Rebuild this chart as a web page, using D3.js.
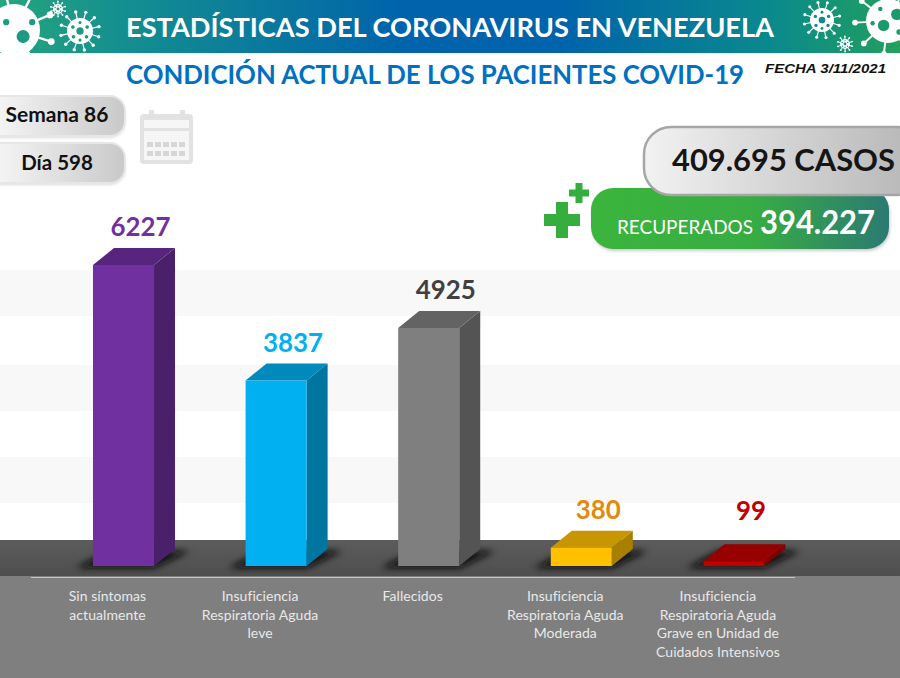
<!DOCTYPE html>
<html>
<head>
<meta charset="utf-8">
<script src="https://cdn.jsdelivr.net/npm/d3@7"></script>
<style>
  html, body { margin: 0; padding: 0; background: #fff; }
  svg { display: block; }
  text { font-family: Lato, "Open Sans", sans-serif; }
</style>
</head>
<body>
<div id="chart"></div>
<script>
const categories = ["Sin síntomas", "IRA leve", "Fallecidos", "IRA moderada", "IRA grave UCI"];
const values = [6227, 3837, 4925, 380, 99];
const categoryLines = [
  ["Sin síntomas", "actualmente"],
  ["Insuficiencia", "Respiratoria Aguda", "leve"],
  ["Fallecidos"],
  ["Insuficiencia", "Respiratoria Aguda", "Moderada"],
  ["Insuficiencia", "Respiratoria Aguda", "Grave en Unidad de", "Cuidados Intensivos"]
];
const barColors = ["#7030a0", "#00b0f0", "#7f7f7f", "#ffc000", "#c00000"];
const labelColors = ["#7030a0", "#00b0f0", "#404040", "#e38a0c", "#c00000"];

const width = 900, height = 678;
const depthX = 21, depthY = 17;

const svg = d3.select("#chart").append("svg")
  .attr("width", width)
  .attr("height", height);

const defs = svg.append("defs");

function gradient(id, stops, x2 = 1, y2 = 0) {
  const g = defs.append("linearGradient").attr("id", id)
    .attr("x1", 0).attr("y1", 0).attr("x2", x2).attr("y2", y2);
  stops.forEach(s => g.append("stop").attr("offset", s[0]).attr("stop-color", s[1]));
}
gradient("headerGrad", [[0, "#27a57c"], [0.13, "#14908f"], [0.45, "#0063ab"], [0.62, "#0063ab"], [0.86, "#0a8a8c"], [1, "#22a05c"]]);
gradient("pillGrad", [[0, "#fafafa"], [1, "#c9c9c9"]]);
gradient("casosGrad", [[0, "#f2f2f2"], [1, "#b5b5b5"]]);
gradient("greenGrad", [[0, "#3bb53c"], [0.55, "#37ac44"], [1, "#2c7a72"]]);
gradient("floorGrad", [[0, "#5c5c5c"], [1, "#4e4e4e"]], 0, 1);

defs.append("filter").attr("id", "blur").attr("x", "-30%").attr("y", "-60%").attr("width", "160%").attr("height", "220%")
  .append("feGaussianBlur").attr("stdDeviation", 3.5);
defs.append("filter").attr("id", "soft").attr("x", "-10%").attr("y", "-10%").attr("width", "120%").attr("height", "130%")
  .append("feGaussianBlur").attr("stdDeviation", 1.5);
defs.append("clipPath").attr("id", "headerClip")
  .append("rect").attr("width", width).attr("height", 53);
defs.append("clipPath").attr("id", "floorClip")
  .append("rect").attr("y", 540).attr("width", width).attr("height", 36);

// header
const header = svg.append("g").attr("clip-path", "url(#headerClip)");
header.append("rect").attr("width", width).attr("height", 53).attr("fill", "url(#headerGrad)");

function virus(g, cx, cy, r, spikes, holes, holeColor) {
  const v = g.append("g").attr("transform", `translate(${cx},${cy})`);
  d3.range(spikes).forEach(i => {
    const a = i / spikes * 2 * Math.PI + 0.3;
    v.append("line")
      .attr("x2", Math.cos(a) * r * 1.5).attr("y2", Math.sin(a) * r * 1.5)
      .attr("stroke", "#fff").attr("stroke-width", Math.max(1, r * 0.09));
    v.append("circle")
      .attr("cx", Math.cos(a) * r * 1.5).attr("cy", Math.sin(a) * r * 1.5)
      .attr("r", Math.max(0.9, r * 0.13)).attr("fill", "#fff");
  });
  v.append("circle").attr("r", r).attr("fill", "#fff");
  holes.forEach(h => v.append("circle")
    .attr("cx", h[0] * r).attr("cy", h[1] * r).attr("r", h[2] * r).attr("fill", holeColor));
}
const smallHoles = [[0, 0, 0.28], [-0.55, -0.3, 0.14], [0.55, -0.3, 0.14], [-0.5, 0.45, 0.14], [0.5, 0.45, 0.14], [0, -0.65, 0.12], [0, 0.7, 0.12]];
const bigHoles = [[0.4, -0.3, 0.26], [-0.2, 0.2, 0.26], [-0.35, -0.55, 0.1], [0.5, 0.5, 0.12], [-0.7, 0.1, 0.1]];
virus(header, 14, 30, 26, 9, [[0.35, 0.25, 0.25], [-0.3, -0.3, 0.12], [0.7, -0.3, 0.12], [0.85, 0.7, 0.1]], "#1d9a85");
virus(header, 80, 31, 13, 12, smallHoles, "#1d9a85");
virus(header, 58, 9, 5, 10, smallHoles, "#1d9a85");
virus(header, 822, 20, 12, 12, smallHoles, "#118a8b");
virus(header, 845, 44, 5, 10, smallHoles, "#118a8b");
virus(header, 888, 21, 22, 9, bigHoles, "#1d9a6c");

header.append("text")
  .attr("x", 126).attr("y", 37)
  .attr("textLength", 648).attr("lengthAdjust", "spacingAndGlyphs")
  .attr("font-size", 26.5).attr("font-weight", 700).attr("fill", "#fff")
  .text("ESTADÍSTICAS DEL CORONAVIRUS EN VENEZUELA");

svg.append("text")
  .attr("x", 126).attr("y", 84)
  .attr("textLength", 618).attr("lengthAdjust", "spacingAndGlyphs")
  .attr("font-size", 26).attr("font-weight", 700).attr("fill", "#0070c0")
  .text("CONDICIÓN ACTUAL DE LOS PACIENTES COVID-19");

svg.append("text")
  .attr("x", 765).attr("y", 73)
  .attr("textLength", 121).attr("lengthAdjust", "spacingAndGlyphs")
  .style("font-family", "'Liberation Sans', sans-serif")
  .attr("font-size", 13.5).attr("font-weight", 700).attr("font-style", "italic").attr("fill", "#111")
  .text("FECHA 3/11/2021");

// week and day pills
function pill(x, y, w, h, r, fill, stroke) {
  svg.append("rect").attr("x", x).attr("y", y + 2).attr("width", w).attr("height", h).attr("rx", r)
    .attr("fill", "#bbb").attr("opacity", 0.5).attr("filter", "url(#soft)");
  svg.append("rect").attr("x", x).attr("y", y).attr("width", w).attr("height", h).attr("rx", r)
    .attr("fill", fill).attr("stroke", stroke).attr("stroke-width", 2);
}
pill(-20, 96, 145, 40, 15, "url(#pillGrad)", "#e6e6e6");
pill(-20, 143, 145, 40, 15, "url(#pillGrad)", "#e6e6e6");
svg.append("text").attr("x", 57).attr("y", 122).attr("text-anchor", "middle")
  .attr("font-size", 21).attr("font-weight", 700).attr("fill", "#111").text("Semana 86");
svg.append("text").attr("x", 57).attr("y", 170).attr("text-anchor", "middle")
  .attr("font-size", 20.5).attr("font-weight", 700).attr("fill", "#111").text("Día 598");

// calendar icon
const cal = svg.append("g").attr("fill", "#e2e2e2").attr("filter", "url(#calSoft)");
defs.append("filter").attr("id", "calSoft").append("feGaussianBlur").attr("stdDeviation", 0.5);
cal.append("rect").attr("x", 140).attr("y", 114).attr("width", 53).attr("height", 50).attr("rx", 4);
cal.append("rect").attr("x", 144).attr("y", 120).attr("width", 45).attr("height", 8).attr("fill", "#f6f6f6");
cal.append("rect").attr("x", 144).attr("y", 131).attr("width", 45).attr("height", 29).attr("fill", "#f6f6f6");
cal.append("rect").attr("x", 149).attr("y", 110).attr("width", 5).attr("height", 10);
cal.append("rect").attr("x", 180).attr("y", 110).attr("width", 5).attr("height", 10);
d3.range(2).forEach(row => d3.range(5).forEach(col => {
  cal.append("rect")
    .attr("x", 147 + col * 8).attr("y", 142 + row * 9)
    .attr("width", 6).attr("height", 5).attr("fill", "#d6d6d6");
}));

// background bands
[[270, 46], [365, 46], [457, 46]].forEach(b => {
  svg.append("rect").attr("x", 0).attr("y", b[0]).attr("width", width).attr("height", b[1]).attr("fill", "#f8f8f8");
});

// floor
svg.append("rect").attr("y", 540).attr("width", width).attr("height", 36).attr("fill", "url(#floorGrad)");
svg.append("rect").attr("y", 576).attr("width", width).attr("height", 102).attr("fill", "#7f7f7f");
svg.append("line").attr("x1", 31).attr("x2", 795).attr("y1", 577.5).attr("y2", 577.5)
  .attr("stroke", "#c4c4c4").attr("stroke-width", 1.2);

// recovered pill, then total pill on top of it
svg.append("rect").attr("x", 592).attr("y", 191).attr("width", 298).attr("height", 60).attr("rx", 22)
  .attr("fill", "#999").attr("opacity", 0.5).attr("filter", "url(#soft)");
svg.append("rect").attr("x", 591).attr("y", 188).attr("width", 298).attr("height", 61).attr("rx", 22)
  .attr("fill", "url(#greenGrad)");
svg.append("rect").attr("x", 644).attr("y", 127).attr("width", 280).attr("height", 68).attr("rx", 27)
  .attr("fill", "url(#casosGrad)").attr("stroke", "#a6a6a6").attr("stroke-width", 2.5);
svg.append("text").attr("x", 672).attr("y", 171)
  .attr("textLength", 223).attr("lengthAdjust", "spacingAndGlyphs")
  .attr("font-size", 31).attr("font-weight", 700).attr("fill", "#151515").text("409.695 CASOS");
svg.append("text").attr("x", 617).attr("y", 234)
  .attr("textLength", 136).attr("lengthAdjust", "spacingAndGlyphs")
  .attr("font-size", 20).attr("fill", "#fff").text("RECUPERADOS");
svg.append("text").attr("x", 760).attr("y", 234)
  .attr("textLength", 115).attr("lengthAdjust", "spacingAndGlyphs")
  .attr("font-size", 32).attr("font-weight", 700).attr("fill", "#fff").text("394.227");

function cross(cx, cy, size, thick) {
  svg.append("rect").attr("x", cx - size / 2).attr("y", cy - thick / 2).attr("width", size).attr("height", thick).attr("fill", "#36ad3f");
  svg.append("rect").attr("x", cx - thick / 2).attr("y", cy - size / 2).attr("width", thick).attr("height", size).attr("fill", "#36ad3f");
}
cross(562, 220, 36, 12);
cross(579, 193, 20, 7);

// bars
const x = d3.scaleBand()
  .domain(categories)
  .range([47.2, 810.2])
  .paddingInner(0.6)
  .paddingOuter(0.3);

const y = d3.scaleLinear()
  .domain([0, d3.max(values)])
  .range([566, 265]);

const data = categories.map((c, i) => ({
  category: c, value: values[i], color: barColors[i], labelColor: labelColors[i], lines: categoryLines[i]
}));
const bw = x.bandwidth();
const pts = p => p.map(q => q.join(",")).join(" ");

// blurred shadow on the floor
svg.append("g").attr("clip-path", "url(#floorClip)")
  .selectAll("polygon").data(data).join("polygon")
  .attr("points", d => {
    const l = x(d.category), b = y(0) + 2;
    return pts([[l - 17, b], [l + bw, b], [l + bw + 36, b - depthY], [l + 15, b - depthY]]);
  })
  .attr("fill", "#111")
  .attr("filter", "url(#blur)");

const bar = svg.append("g").selectAll("g").data(data).join("g");

bar.append("polygon") // side face
  .attr("points", d => {
    const r = x(d.category) + bw, t = y(d.value), b = y(0);
    return pts([[r, t], [r + depthX, t - depthY], [r + depthX, b - depthY], [r, b]]);
  })
  .attr("fill", d => d3.color(d.color).darker(1.15));

bar.append("polygon") // top face
  .attr("points", d => {
    const l = x(d.category), t = y(d.value);
    return pts([[l, t], [l + depthX, t - depthY], [l + bw + depthX, t - depthY], [l + bw, t]]);
  })
  .attr("fill", d => d3.color(d.color).darker(0.7));

bar.append("rect") // front face
  .attr("x", d => x(d.category))
  .attr("y", d => y(d.value))
  .attr("width", bw)
  .attr("height", d => y(0) - y(d.value))
  .attr("fill", d => d.color);

bar.append("text")
  .attr("x", d => x(d.category) + bw / 2 + 17)
  .attr("y", d => Math.min(y(d.value) - 29, 520))
  .attr("text-anchor", "middle")
  .attr("font-size", 27)
  .attr("font-weight", 700)
  .attr("fill", d => d.labelColor)
  .text(d => d.value)
  .attr("textLength", d => String(d.value).length * 15)
  .attr("lengthAdjust", "spacingAndGlyphs");

// category labels
bar.append("text")
  .attr("text-anchor", "middle")
  .attr("font-size", 14)
  .attr("letter-spacing", 0.05)
  .attr("fill", "#e9e9e9")
  .selectAll("tspan").data(d => d.lines.map(line => ({ line, d }))).join("tspan")
  .attr("x", e => x(e.d.category) + bw / 2 - 16)
  .attr("y", (e, i) => 601 + i * 18.7)
  .text(e => e.line);
</script>
</body>
</html>
